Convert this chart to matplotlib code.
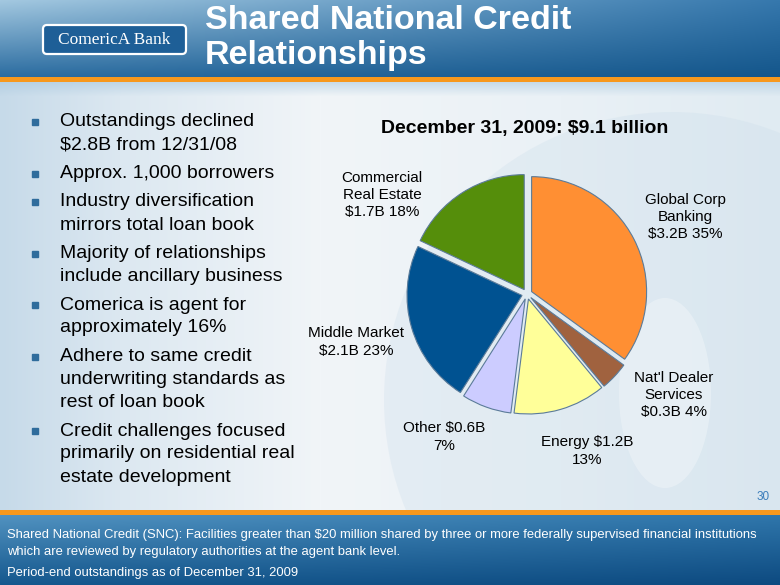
import matplotlib
matplotlib.use("Agg")
import matplotlib.pyplot as plt
import numpy as np
from matplotlib.colors import to_rgb
from matplotlib.patches import FancyBboxPatch, Rectangle, Circle, Ellipse

plt.rcParams['font.family'] = ['Liberation Sans', 'DejaVu Sans']

# ---- data ----
segments = ["Global Corp Banking", "Nat'l Dealer Services", "Energy", "Other",
            "Middle Market", "Commercial Real Estate"]
amounts = [3.2, 0.3, 1.2, 0.6, 2.1, 1.7]          # $B
shares = [35, 4, 13, 7, 23, 18]                   # % of $9.1B
label_text = ["Global Corp\nBanking\n$3.2B 35%",
              "Nat'l Dealer\nServices\n$0.3B 4%",
              "Energy $1.2B\n13%",
              "Other $0.6B\n7%",
              "Middle Market\n$2.1B 23%",
              "Commercial\nReal Estate\n$1.7B 18%"]
colors = ['#ff8f33', '#a0623f', '#ffff99', '#ccccff', '#005291', '#558e0b']

bullets = [["Outstandings declined", "$2.8B from 12/31/08"],
           ["Approx. 1,000 borrowers"],
           ["Industry diversification", "mirrors total loan book"],
           ["Majority of relationships", "include ancillary business"],
           ["Comerica is agent for", "approximately 16%"],
           ["Adhere to same credit", "underwriting standards as", "rest of loan book"],
           ["Credit challenges focused", "primarily on residential real", "estate development"]]

footer_lines = ["Shared National Credit (SNC): Facilities greater than $20 million shared by three or more federally supervised financial institutions",
                "which are reviewed by regulatory authorities at the agent bank level."]
footer_note = "Period-end outstandings as of December 31, 2009"

# label centres in slide pixels (layout)
label_pos = [(685, 217), (674, 395), (587, 451), (444, 437), (356, 342), (382, 195)]

W, H = 780, 585
fig = plt.figure(figsize=(7.8, 5.85), dpi=100)
bg = fig.add_axes([0, 0, 1, 1], zorder=0)


def grad(tl, tr, bl, br, h, w):
    tl, tr, bl, br = [np.array(to_rgb(c)) for c in (tl, tr, bl, br)]
    u = np.linspace(0, 1, w)[None, :, None]
    v = np.linspace(0, 1, h)[:, None, None]
    top = tl * (1 - u) + tr * u
    bot = bl * (1 - u) + br * u
    return top * (1 - v) + bot * v


# body background
xs = np.arange(W)
anchors = [0, 120, 320, 560, 780]
cols = [to_rgb(c) for c in ['#c6dae9', '#dce8f1', '#f1f5f8', '#eaf1f6', '#e0ebf2']]
body = np.stack([np.interp(xs, anchors, [c[i] for c in cols]) for i in range(3)], axis=-1)
body = np.repeat(body[None, :, :], 428, axis=0)
shade = np.clip(1 - np.arange(428) / 14.0, 0, 1)[:, None, None]
body = body * (1 - 0.55 * shade) + np.array(to_rgb('#a9c8de')) * 0.55 * shade
bg.imshow(body, extent=(0, W, 510, 82), aspect='auto', interpolation='bilinear')

# faint watermark, kept inside the body area
body_clip = Rectangle((0, 95), W, 415, transform=bg.transData)
ring = bg.add_patch(Circle((672, 400), 288, facecolor='#c9dcea', alpha=0.28, edgecolor='none'))
ring.set_clip_path(body_clip)
hole = bg.add_patch(Ellipse((665, 393), 92, 190, facecolor='#edf3f7', alpha=0.6, edgecolor='none'))
hole.set_clip_path(body_clip)

# header and footer bands
bg.imshow(grad('#a3c8e0', '#3678ad', '#2c6da1', '#14568b', 77, W),
          extent=(0, W, 77, 0), aspect='auto', interpolation='bilinear')
bg.add_patch(Rectangle((0, 77), W, 5, facecolor='#f7981d', edgecolor='none'))
bg.add_patch(Rectangle((0, 510), W, 5, facecolor='#f7981d', edgecolor='none'))
bg.imshow(grad('#5192c0', '#2f76ab', '#15588e', '#0d4a80', 70, W),
          extent=(0, W, 585, 515), aspect='auto', interpolation='bilinear')
bg.set_xlim(0, W)
bg.set_ylim(H, 0)
bg.axis('off')

# logo
bg.add_patch(FancyBboxPatch((43, 25), 143, 29, boxstyle='round,pad=0,rounding_size=4',
                            facecolor='#1e5f97', edgecolor='white', linewidth=1.6))
bg.text(114, 39.5, "ComericA Bank", color='white', fontsize=12.5, ha='center', va='center',
        family=['Liberation Serif', 'DejaVu Serif'])

# slide title
bg.text(205, 29, "Shared National Credit", color='white', fontsize=24.5, fontweight='bold',
        ha='left', va='baseline')
bg.text(205, 64, "Relationships", color='white', fontsize=24.5, fontweight='bold',
        ha='left', va='baseline')

# bullets
y = 122
for item in bullets:
    bg.plot(35, y, marker='s', markersize=4.5, color='#2f6c9c')
    for line in item:
        bg.text(60, y, line, fontsize=14, color='black', ha='left', va='center')
        y += 23
    y += 5.5

# chart title
bg.text(525, 129, "December 31, 2009: $9.1 billion", fontsize=14, fontweight='bold',
        ha='center', va='center')

# pie labels
for txt, (lx, ly) in zip(label_text, label_pos):
    bg.text(lx, ly, txt, fontsize=11, ha='center', va='center', linespacing=1.3)

# page number
bg.text(763, 497, "30", fontsize=8.5, color='#3b7dbb', ha='center', va='center')

# footer text
bg.text(7, 535, footer_lines[0], fontsize=9.4, color='white', ha='left', va='center')
bg.text(7, 552, footer_lines[1], fontsize=9.4, color='white', ha='left', va='center')
bg.text(7, 573, footer_note, fontsize=9.4, color='white', ha='left', va='center')

# pie: centre (527, 294) px, radius 115 px
L = 1.7
side = 2 * L * 115
ax = fig.add_axes([(527 - side / 2) / W, (H - 294 - side / 2) / H, side / W, side / H], zorder=1)
ax.set_facecolor('none')
ax.pie(shares, colors=colors, startangle=90, counterclock=False,
       explode=[0.045] * len(shares),
       wedgeprops=dict(edgecolor='#5b7b99', linewidth=0.8))
ax.set_xlim(-L, L)
ax.set_ylim(-L, L)
ax.set_aspect('equal')
ax.axis('off')

fig.savefig("out.png", dpi=100)
